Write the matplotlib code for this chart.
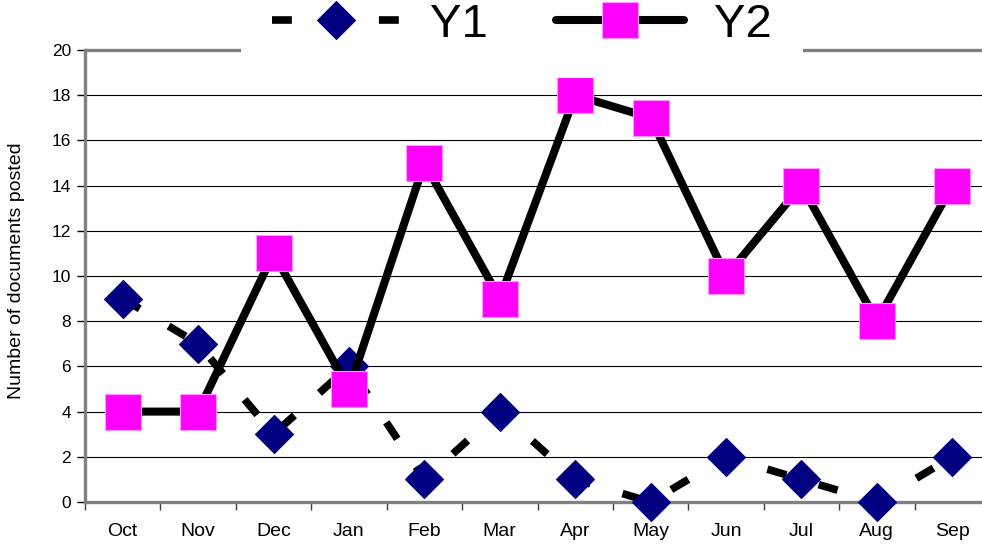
import matplotlib
matplotlib.use("Agg")
import matplotlib.pyplot as plt
from matplotlib.ticker import FixedLocator

plt.rcParams['font.family'] = ['Liberation Sans', 'DejaVu Sans']

months = ["Oct", "Nov", "Dec", "Jan", "Feb", "Mar", "Apr", "May", "Jun", "Jul", "Aug", "Sep"]
y1 = [9, 7, 3, 6, 1, 4, 1, 0, 2, 1, 0, 2]
y2 = [4, 4, 11, 5, 15, 9, 18, 17, 10, 14, 8, 14]
y_ticks = list(range(0, 21, 2))

W, H = 982, 545
fig = plt.figure(figsize=(W / 100, H / 100), dpi=100)
ax = fig.add_axes([85 / W, (H - 502) / H, 905 / W, 452 / H])

x = list(range(len(months)))

# Y1: dashed black line with navy diamonds
l1, = ax.plot(x, y1, color="black", lw=5.5, linestyle=(0, (2.6, 4.4)),
              dash_capstyle="butt", marker="D", markersize=19,
              markerfacecolor="#000080", markeredgecolor="#000080",
              markeredgewidth=0.8, clip_on=False, zorder=3, label="Y1")
# Y2: solid black line with magenta squares
l2, = ax.plot(x, y2, color="black", lw=5.8, solid_capstyle="round",
              solid_joinstyle="miter", marker="s", markersize=26,
              markerfacecolor="#FF00FF", markeredgecolor="#FF99FF",
              markeredgewidth=0.8, clip_on=False, zorder=4, label="Y2")

ax.set_xlim(-0.5, len(months) - 0.5)
ax.set_ylim(0, 20)
ax.set_yticks(y_ticks)
ax.yaxis.grid(True, color="black", lw=0.8)
ax.set_axisbelow(True)

ax.set_xticks(x)
ax.set_xticklabels(months)
ax.xaxis.set_minor_locator(FixedLocator([i - 0.5 for i in range(len(months) + 1)]))
ax.tick_params(axis="x", which="major", length=0, pad=15, labelsize=14)
ax.tick_params(axis="x", which="minor", length=6, width=1, color="#404040")
ax.tick_params(axis="y", length=6, width=1, pad=4, labelsize=12.5)

for side in ["left", "bottom", "top"]:
    ax.spines[side].set_color("#808080")
    ax.spines[side].set_linewidth(2.4)
ax.spines["right"].set_visible(False)

fig.text(17 / W, 1 - 271 / H, "Number of documents posted", rotation=90,
         ha="center", va="center", fontsize=14)

leg = fig.legend(handles=[l1, l2], loc="center", ncol=2,
                 bbox_to_anchor=(522 / W, 1 - 25 / H),
                 fontsize=34, numpoints=1, handlelength=2.7,
                 handletextpad=0.65, columnspacing=1.45, borderpad=0.65,
                 frameon=True, fancybox=False)
leg.get_frame().set_facecolor("white")
leg.get_frame().set_edgecolor("none")
leg.get_frame().set_alpha(1)

fig.savefig("out.png", dpi=100)
